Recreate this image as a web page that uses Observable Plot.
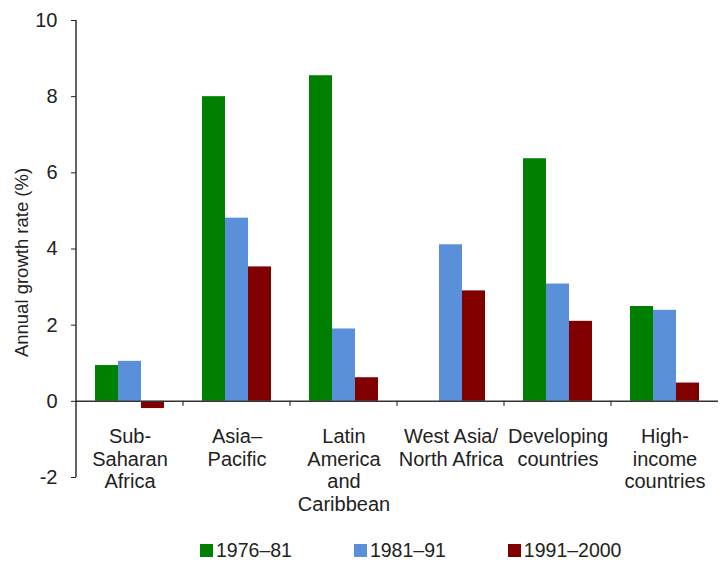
<!DOCTYPE html>
<html>
<head>
<meta charset="utf-8">
<script src="https://cdn.jsdelivr.net/npm/d3@7"></script>
<script src="https://cdn.jsdelivr.net/npm/@observablehq/plot@0.6"></script>
<style>
  html, body { margin: 0; padding: 0; background: #fff; }
  body { width: 720px; height: 563px; overflow: hidden; font-family: "Liberation Sans", Arial, sans-serif; color: #222; }
  #legend { display: flex; padding-left: 200px; gap: 62px; margin-top: 13px; font-size: 19.5px; line-height: 20px; }
  #legend .item { display: flex; align-items: center; }
  #legend .sw { width: 13px; height: 13px; margin-right: 3px; display: inline-block; }
</style>
</head>
<body>
<div id="chart"></div>
<div id="legend"></div>
<script>
const categories = ["Sub-Saharan Africa", "Asia–Pacific", "Latin America and Caribbean", "West Asia/North Africa", "Developing countries", "High-income countries"];
const categoryLabels = ["Sub-\nSaharan\nAfrica", "Asia–\nPacific", "Latin\nAmerica\nand\nCaribbean", "West Asia/\nNorth Africa", "Developing\ncountries", "High-\nincome\ncountries"];
const series = ["1976–81", "1981–91", "1991–2000"];
const values1976 = [0.94, 8.0, 8.55, null, 6.37, 2.49];
const values1981 = [1.05, 4.81, 1.9, 4.11, 3.08, 2.39];
const values1991 = [-0.19, 3.53, 0.62, 2.9, 2.1, 0.48];
const yTicks = [-2, 0, 2, 4, 6, 8, 10];
const colors = ["#008000", "#5a8fda", "#800000"];

const seriesValues = [values1976, values1981, values1991];
const data = [];
categories.forEach((c, i) => {
  series.forEach((s, j) => {
    const v = seriesValues[j][i];
    if (v != null) data.push({category: c, series: s, value: v});
  });
});
const labelOf = new Map(categories.map((c, i) => [c, categoryLabels[i]]));

const decor = Plot.text(["Annual growth rate (%)"], {
  x: null,
  y: null,
  facet: "super",
  render(index, scales, values, dims) {
    const {width, height, marginLeft, marginRight, marginTop, marginBottom} = dims;
    const y = scales.y;
    const g = d3.create("svg:g");
    const y0 = y(0);
    const n = categories.length;
    const step = (width - marginLeft - marginRight) / n;
    categories.forEach((c, i) => {
      if (i === 0) return;
      const x = scales.fx ? scales.fx(c) : marginLeft + i * step;
      g.append("line").attr("x1", x).attr("x2", x).attr("y1", y0).attr("y2", y0 + 5)
        .attr("stroke", "#333").attr("stroke-width", 1.2);
    });
    g.append("line").attr("x1", marginLeft).attr("x2", marginLeft)
      .attr("y1", marginTop).attr("y2", height - marginBottom)
      .attr("stroke", "#222").attr("stroke-width", 1.4);
    g.append("text")
      .attr("transform", `translate(22,${(marginTop + height - marginBottom) / 2 + 14}) rotate(-90)`)
      .attr("text-anchor", "middle").attr("dy", "0.35em")
      .attr("font-size", 18.5).attr("fill", "#222")
      .text("Annual growth rate (%)");
    return g.node();
  }
});

const chart = Plot.plot({
  width: 720,
  height: 527,
  marginLeft: 76,
  marginRight: 2,
  marginTop: 20,
  marginBottom: 50,
  style: {fontFamily: "'Liberation Sans', Arial, sans-serif", color: "#222", background: "#fff"},
  fx: {domain: categories, padding: 0, label: null},
  x: {domain: series, paddingInner: 0, paddingOuter: 0.75, axis: null},
  y: {domain: [-2, 10], label: null},
  color: {domain: series, range: colors},
  marks: [
    Plot.barY(data, {fx: "category", x: "series", y: "value", fill: "series"}),
    Plot.ruleY([0], {stroke: "#333", strokeWidth: 1.5}),
    Plot.axisY({ticks: yTicks, tickFormat: d => String(d), tickSize: 5, tickPadding: 14, fontSize: 20, label: null, stroke: "#222"}),
    Plot.axisFx({anchor: "bottom", tickSize: 0, tickPadding: 0, fontSize: 20, lineHeight: 1.12, dy: -50, tickFormat: d => labelOf.get(d), label: null}),
    decor
  ]
});
document.getElementById("chart").appendChild(chart);

const legend = document.getElementById("legend");
series.forEach((s, i) => {
  const item = document.createElement("div");
  item.className = "item";
  const sw = document.createElement("span");
  sw.className = "sw";
  sw.style.background = colors[i];
  item.appendChild(sw);
  item.appendChild(document.createTextNode(s));
  legend.appendChild(item);
});
</script>
</body>
</html>
